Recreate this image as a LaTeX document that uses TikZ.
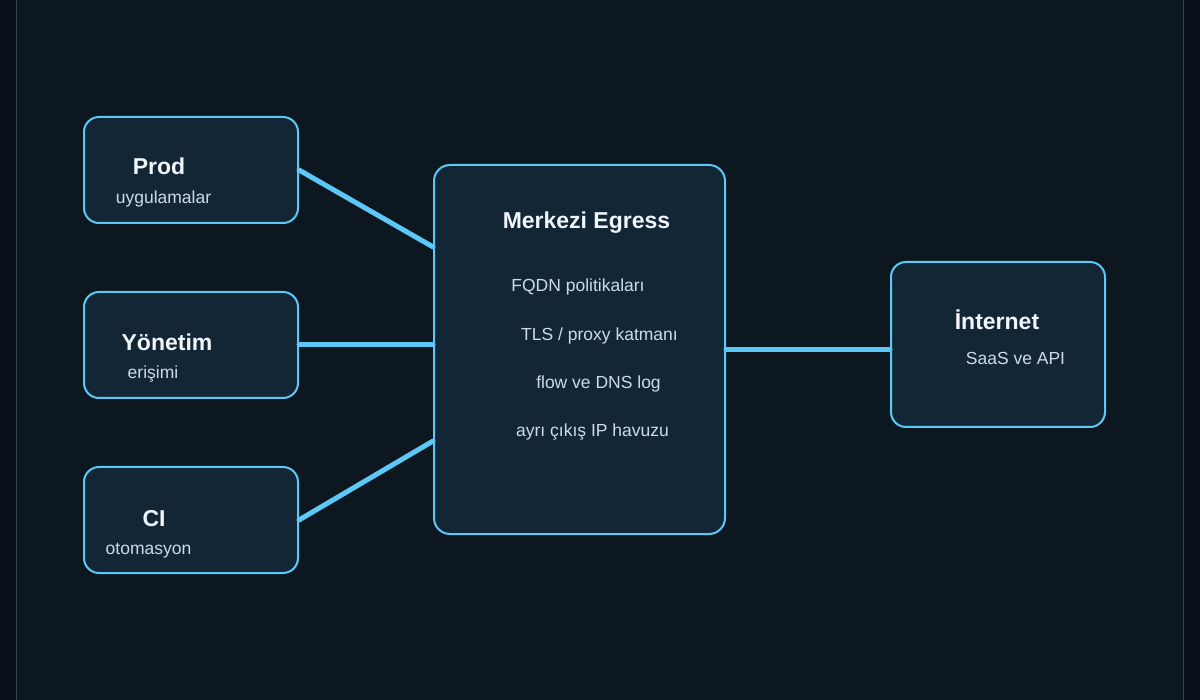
\documentclass[tikz,border=0pt]{standalone}
\usepackage{fontspec}
\setmainfont{Liberation Sans}
\usepackage{xcolor}
\usepackage{tikz}
\usetikzlibrary{positioning}

\definecolor{outerbg}{HTML}{0A101C}
\definecolor{pagebg}{HTML}{0C1720}
\definecolor{frameline}{HTML}{3A424F}
\definecolor{edge}{HTML}{5BC8F5}
\definecolor{boxfill}{HTML}{122636}
\definecolor{titletext}{HTML}{F0F6FB}
\definecolor{subtext}{HTML}{C9DCE8}

\begin{document}
\begin{tikzpicture}[
  x=1pt, y=-1pt,
  node distance = 67pt and 136pt,
  every node/.style = {font=\fontsize{17.5}{21}\selectfont},
  box/.style   = {rectangle, rounded corners=15pt, draw=edge, line width=2pt,
                  fill=boxfill, minimum width=214pt, minimum height=106pt,
                  inner sep=0pt},
  hub/.style   = {box, minimum width=291pt, minimum height=369pt,
                  rounded corners=16pt},
  title/.style = {anchor=base, text=titletext,
                  font=\fontsize{23}{27}\selectfont\bfseries},
  sub/.style   = {anchor=base, text=subtext},
  link/.style  = {draw=edge, line width=5pt, line cap=round}
]

% --- zemin ---
\useasboundingbox (0,0) rectangle (1200,700);
\fill[outerbg] (0,0) rectangle (1200,700);
\fill[pagebg] (16,0) rectangle (1183,700);
\draw[frameline, line width=1pt] (16,0) -- (16,700) (1183,0) -- (1183,700);

% --- kaynaklar (sol sütun) ---
\node[box]                   (prod)    at (191,170) {};
\node[box, below=of prod]    (yonetim) {};
\node[box, below=of yonetim] (ci)      {};

% --- merkez ve internet ---
\node[hub]                                  (egress)   at (579.5,349.5) {};
\node[box, minimum height=165pt, right=164pt of egress, yshift=5pt] (internet) {};

% --- yazılar ---
\node[title] (prodT)    at (159,175) {Prod};
\node[sub]   (prodS)    at (163.5,204) {uygulamalar};
\node[title] (yonetimT) at (167,351) {Yönetim};
\node[sub]   (yonetimS) at (153,379) {erişimi};
\node[title] (ciT)      at (154,526) {CI};
\node[sub]   (ciS)      at (148.5,554) {otomasyon};

\node[title] (egressT) at (586.5,229) {Merkezi Egress};
\node[sub]   (fqdn)    at (578,292)   {FQDN politikaları};
\node[sub]   (tls)     at (599.5,341) {TLS / proxy katmanı};
\node[sub]   (flow)    at (598.5,389) {flow ve DNS log};
\node[sub]   (ippool)  at (592.5,437) {ayrı çıkış IP havuzu};

\node[title] (internetT) at (997,330)    {İnternet};
\node[sub]   (internetS) at (1015.5,365) {SaaS ve API};

% --- bağlantılar ---
\draw[link] (prod.east) -- (egress.145);
\draw[link] (yonetim.east) -- (yonetim.east -| egress.west);
\draw[link] (ci.east) -- (egress.212);
\draw[link] (egress.east) -- (egress.east -| internet.west);

\end{tikzpicture}
\end{document}
